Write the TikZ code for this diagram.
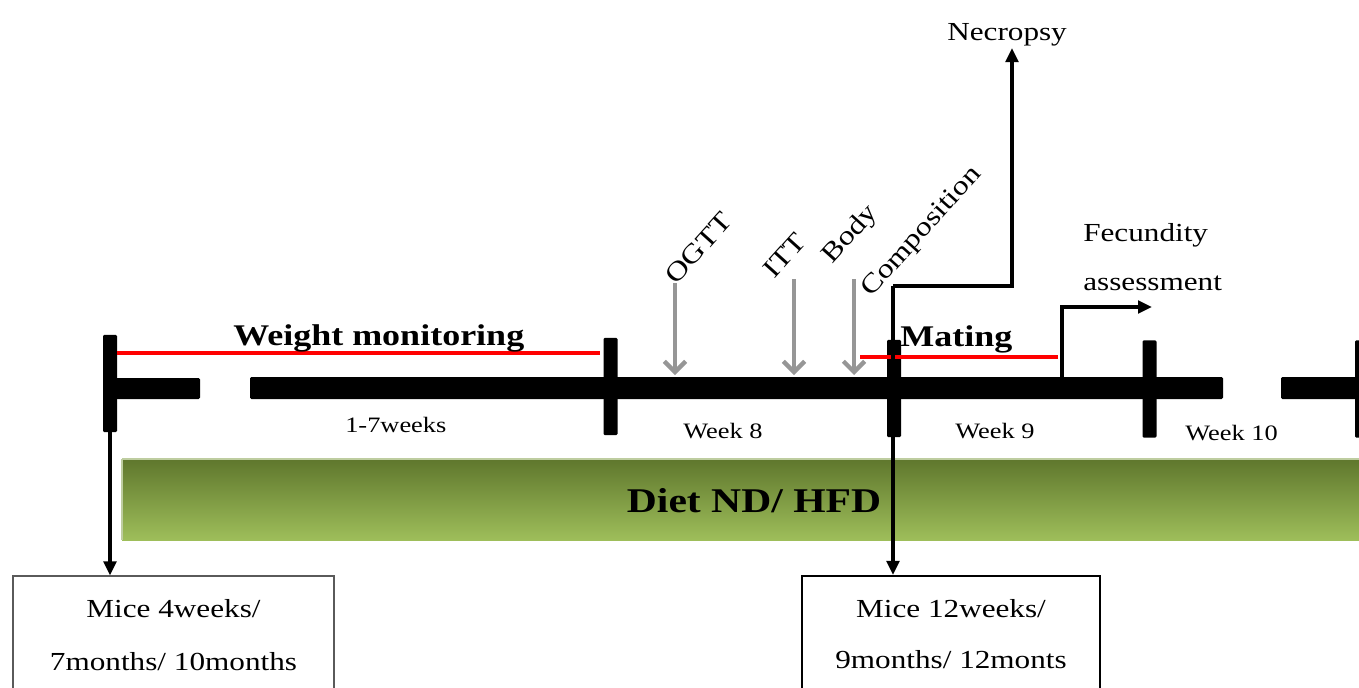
\documentclass[tikz,border=0pt]{standalone}
\usepackage{fontspec}
\setmainfont[FakeStretch=1.2]{Liberation Serif}
\usetikzlibrary{arrows.meta}
\definecolor{dietTop}{RGB}{95,119,45}
\definecolor{dietBot}{RGB}{158,190,90}
\definecolor{dietEdge}{RGB}{190,205,160}
\definecolor{tgray}{RGB}{150,150,150}
\definecolor{boxgray}{RGB}{90,90,90}
\begin{document}
\begin{tikzpicture}[x=0.75pt,y=-0.75pt,
  tickbar/.style={fill=black,inner sep=0pt,minimum width=10.5pt,minimum height=73pt,rounded corners=1pt},
  wk/.style={inner sep=0pt,anchor=base west,font=\fontsize{16.5}{18}\selectfont},
  big/.style={inner sep=0pt,anchor=base west,font=\fontsize{22.5}{26}\selectfont\bfseries},
  rlbl/.style={inner sep=0pt,anchor=base west,rotate=48,font=\fontsize{20}{22}\selectfont},
  side/.style={inner sep=0pt,anchor=base west,font=\fontsize{19.5}{22}\selectfont},
  boxtxt/.style={inner sep=0pt,anchor=base,font=\fontsize{19.5}{22}\selectfont},
  arr/.style={line width=2.4pt,-{Triangle[length=10.5pt,width=9.5pt]}},
  garr/.style={line width=3.2pt,tgray,-{Straight Barb[length=8pt,width=16pt]}},
  redl/.style={line width=2.8pt,red},
  mbox/.style={draw,inner sep=0pt}
]
\clip (0,0) rectangle (1359,687);
% diet band
\shade[top color=dietTop,bottom color=dietBot] (122,459) rectangle (1370,540);
\draw[dietEdge,line width=0.8pt] (122,459) -- (1370,459);
\draw[dietEdge,line width=0.8pt] (122,459) -- (122,540);
\node[inner sep=0pt,anchor=base,font=\fontsize{26}{30}\selectfont\bfseries] (diet) at (754,512) {Diet ND/ HFD};
% timeline bars
\fill[rounded corners=1pt] (110,378) rectangle (200,399);
\fill[rounded corners=1pt] (250,377) rectangle (1223,399);
\fill[rounded corners=1pt] (1281,377) rectangle (1370,399);
% ticks
\node[tickbar] (t1) at (110,383.5) {};
\node[tickbar] (t2) at (610.5,386.5) {};
\node[tickbar] (t3) at (894,388.5) {};
\node[tickbar] (t4) at (1149.5,389) {};
\node[tickbar] (t5) at (1362,389) {};
% red lines
\draw[redl] (117,353) -- (600,353);
\draw[redl] (860,357) -- (1058,357);
% labels
\node[big] (wm) at (233,345) {Weight monitoring};
\node[big] (mating) at (900,346) {Mating};
\node[wk] (w17) at (345,432) {1-7weeks};
\node[wk] (w8) at (683,438) {Week 8};
\node[wk] (w9) at (955,438) {Week 9};
\node[wk] (w10) at (1185,440) {Week 10};
\node[side] (nec) at (947,40) {Necropsy};
\node[side] (fec1) at (1083,241) {Fecundity};
\node[side] (fec2) at (1083,290) {assessment};
% rotated labels
\node[rlbl] (ogtt) at (676,286) {OGTT};
\node[rlbl] (itt) at (774,280) {ITT};
\node[rlbl] (body) at (832,265) {Body};
\node[rlbl] (comp) at (871,298) {Composition};
% gray arrows
\coordinate (g1s) at (675,283); \coordinate (g1e) at (675,375);
\coordinate (g2s) at (794,279); \coordinate (g2e) at (794,375);
\coordinate (g3s) at (854,279); \coordinate (g3e) at (854,375);
\draw[garr] (g1s) -- (g1e);
\draw[garr] (g2s) -- (g2e);
\draw[garr] (g3s) -- (g3e);
% boxes
\node[mbox,draw=boxgray,line width=1pt,minimum width=240.75pt,minimum height=93pt] (box1) at (173.5,638) {};
\node[mbox,draw=black,line width=1.6pt,minimum width=223.5pt,minimum height=93pt] (box2) at (951,638) {};
\node[boxtxt] (b1a) at (173.5,617) {Mice 4weeks/};
\node[boxtxt] (b1b) at (173.5,670) {7months/ 10months};
\node[boxtxt] (b2a) at (951,617) {Mice 12weeks/};
\node[boxtxt] (b2b) at (951,668) {9months/ 12monts};
% black connectors
\draw[arr] (t1.south) -- (t1.south |- box1.north);
\coordinate (cstart) at (893,286);
\coordinate (ntip) at (1012,48);
\draw[arr] (cstart) -| (ntip);
\draw[arr] (cstart) -- (cstart |- box2.north);
\coordinate (f0) at (1062,378);
\coordinate (f1) at (1152,307);
\draw[arr] (f0) |- (f1);
\end{tikzpicture}
\end{document}
